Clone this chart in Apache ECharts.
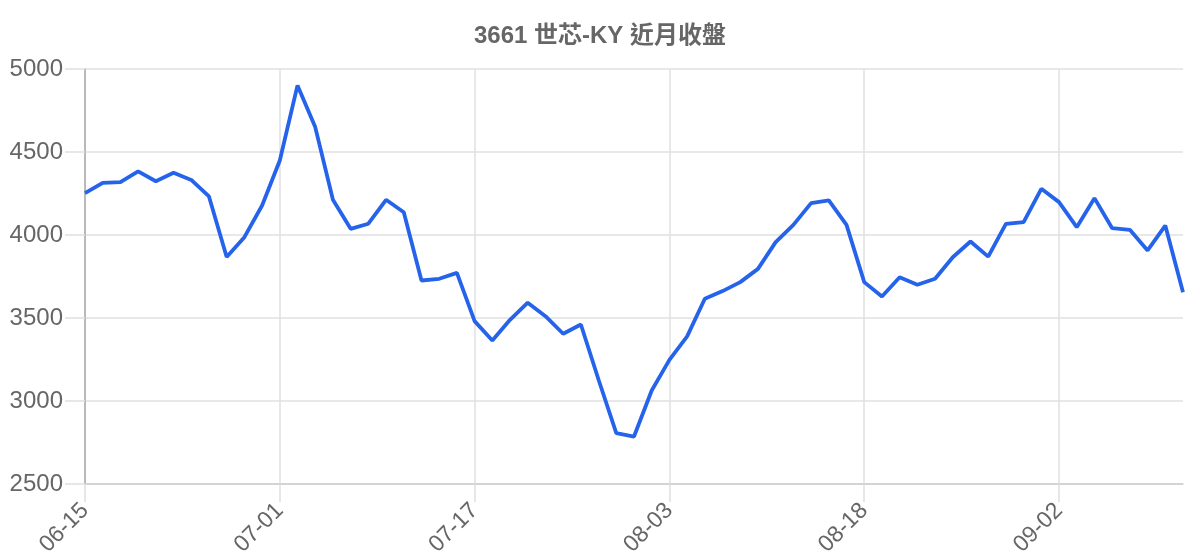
<!DOCTYPE html>
<html>
<head>
<meta charset="utf-8">
<script src="https://cdn.jsdelivr.net/npm/echarts@6/dist/echarts.min.js"></script>
<style>
html,body{margin:0;padding:0;background:#fff;}
#chart{width:1200px;height:560px;}
</style>
</head>
<body>
<div id="chart"></div>
<script>
const chartTitle = '3661 世芯-KY 近月收盤';
const dates = [
  '06-15','06-16','06-17','06-18','06-19','06-22','06-23','06-24','06-26','06-29','06-30',
  '07-01','07-02','07-03','07-06','07-07','07-08','07-10','07-13','07-14','07-15','07-16',
  '07-17','07-20','07-21','07-22','07-23','07-24','07-27','07-28','07-29','07-30','07-31',
  '08-03','08-04','08-05','08-06','08-07','08-10','08-11','08-12','08-13','08-14','08-17',
  '08-18','08-19','08-20','08-21','08-24','08-25','08-26','08-27','08-28','08-31','09-01',
  '09-02','09-03','09-04','09-07','09-08','09-09','09-10','09-11'
];
const closes = [
  4252, 4314, 4318, 4383, 4324, 4375, 4332, 4232, 3868, 3987, 4178,
  4449, 4901, 4650, 4212, 4037, 4068, 4212, 4137, 3726, 3736, 3772,
  3481, 3364, 3489, 3592, 3511, 3405, 3461, 3128, 2806, 2786, 3063,
  3248, 3389, 3616, 3662, 3716, 3796, 3957, 4061, 4192, 4208, 4061,
  3716, 3630, 3746, 3700, 3736, 3866, 3961, 3870, 4067, 4077, 4278,
  4198, 4047, 4222, 4041, 4031, 3907, 4057, 3655
];
const yTicks = { min: 2500, max: 5000, step: 500 };

const FONT = '"Liberation Sans", Arial, "Noto Sans CJK TC", sans-serif';
const chart = echarts.init(document.getElementById('chart'), null, { renderer: 'canvas' });
chart.setOption({
  animation: false,
  backgroundColor: '#ffffff',
  title: {
    text: chartTitle,
    left: 'center',
    top: 24,
    padding: 0,
    textStyle: { fontFamily: FONT, fontSize: 24, fontWeight: 'bold', color: '#666666' }
  },
  grid: { left: 85, right: 17, top: 69, bottom: 76, containLabel: false },
  xAxis: {
    type: 'category',
    data: dates,
    boundaryGap: false,
    axisLine: { show: true, lineStyle: { color: '#cccccc', width: 1.5 } },
    axisTick: { show: true, interval: 10, length: 18, lineStyle: { color: '#e0e0e0', width: 1.5 } },
    axisLabel: {
      interval: 10, rotate: 45, margin: 23,
      fontFamily: FONT, fontSize: 23, color: '#666666'
    },
    splitLine: { show: true, interval: 10, lineStyle: { color: '#e0e0e0', width: 1.5 } }
  },
  yAxis: {
    type: 'value',
    min: yTicks.min, max: yTicks.max, interval: yTicks.step,
    axisLine: { show: true, lineStyle: { color: '#aaaaaa', width: 1.5 } },
    axisTick: { show: true, length: 20, lineStyle: { color: '#e0e0e0', width: 1.5 } },
    axisLabel: {
      margin: 22, fontFamily: FONT, fontSize: 24, color: '#666666',
      formatter: function (v) { return String(v); }
    },
    splitLine: { show: true, lineStyle: { color: '#e0e0e0', width: 1.5 } }
  },
  series: [{
    type: 'line',
    data: closes,
    showSymbol: false,
    symbol: 'none',
    lineStyle: { color: '#2563eb', width: 3.8 },
    itemStyle: { color: '#2563eb' }
  }]
});
</script>
</body>
</html>
